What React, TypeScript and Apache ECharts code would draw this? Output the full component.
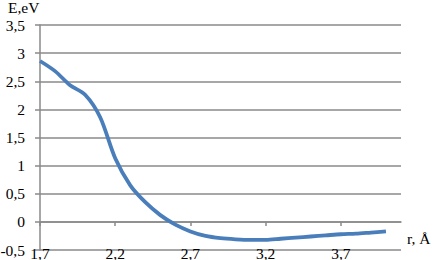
import React, { useEffect, useRef } from "react";
import * as echarts from "echarts";

const X_START = 1.7;
const rValues = [1.7, 1.8, 1.9, 2.0, 2.1, 2.2, 2.3, 2.4, 2.5, 2.6, 2.7, 2.8, 2.9, 3.0, 3.1, 3.2, 3.3, 3.4, 3.5, 3.6, 3.7, 3.8, 3.9, 4.0];
const energyValues = [2.86, 2.68, 2.43, 2.26, 1.86, 1.13, 0.65, 0.35, 0.12, -0.05, -0.17, -0.25, -0.29, -0.31, -0.32, -0.32, -0.3, -0.28, -0.26, -0.24, -0.22, -0.21, -0.19, -0.17];
const yTicks = { min: -0.5, max: 3.5, interval: 0.5 };
const xSpan = { min: 0, max: 2.4, interval: 0.5 };
const yTitle = "E,eV";
const xTitle = "r, Å";

const fmt = (v: number) => (Math.round(v * 10) / 10).toString().replace(".", ",");

export default function App() {
  const ref = useRef<HTMLDivElement>(null);
  useEffect(() => {
    if (!ref.current) return;
    const chart = echarts.init(ref.current, null, { renderer: "svg" });
    const font = "Liberation Serif";
    const textColor = "#000000";
    chart.setOption({
      animation: false,
      backgroundColor: "#ffffff",
      textStyle: { fontFamily: font },
      grid: { left: 40, right: 32, top: 25, bottom: 10, containLabel: false, outerBoundsMode: "none" },
      xAxis: {
        type: "value",
        min: xSpan.min,
        max: xSpan.max,
        interval: xSpan.interval,
        axisLine: { show: true, onZero: true, lineStyle: { color: "#8a8a8a", width: 1.5 } },
        axisTick: { show: true, length: 4, lineStyle: { color: "#8a8a8a", width: 1.5 } },
        axisLabel: {
          margin: -5,
          fontFamily: font,
          fontSize: 15.5,
          color: textColor,
          showMaxLabel: false,
          formatter: (v: number) => fmt(v + X_START),
        },
        splitLine: { show: false },
      },
      yAxis: {
        type: "value",
        min: yTicks.min,
        max: yTicks.max,
        interval: yTicks.interval,
        axisLine: { show: true, onZero: false, lineStyle: { color: "#8a8a8a", width: 1.5 } },
        axisTick: { show: true, length: 5, lineStyle: { color: "#8a8a8a", width: 1.5 } },
        axisLabel: {
          margin: 15,
          fontFamily: font,
          fontSize: 15.5,
          color: textColor,
          formatter: (v: number) => fmt(v),
        },
        splitLine: { show: true, lineStyle: { color: "#8a8a8a", width: 1.5 } },
      },
      graphic: [
        {
          type: "text",
          left: 8,
          top: -1,
          style: { text: yTitle, fontFamily: font, fontSize: 15.5, fill: textColor },
        },
        {
          type: "text",
          left: 407,
          top: 230,
          style: { text: xTitle, fontFamily: font, fontSize: 15.5, fill: textColor },
        },
      ],
      series: [
        {
          type: "line",
          data: rValues.map((r, i) => [r - X_START, energyValues[i]]),
          smooth: 0.3,
          showSymbol: false,
          lineStyle: { color: "#4a7ebb", width: 3.8 },
        },
      ],
    });
    return () => chart.dispose();
  }, []);
  return <div ref={ref} style={{ width: 433, height: 260, position: "absolute", left: 0, top: 0 }} />;
}
